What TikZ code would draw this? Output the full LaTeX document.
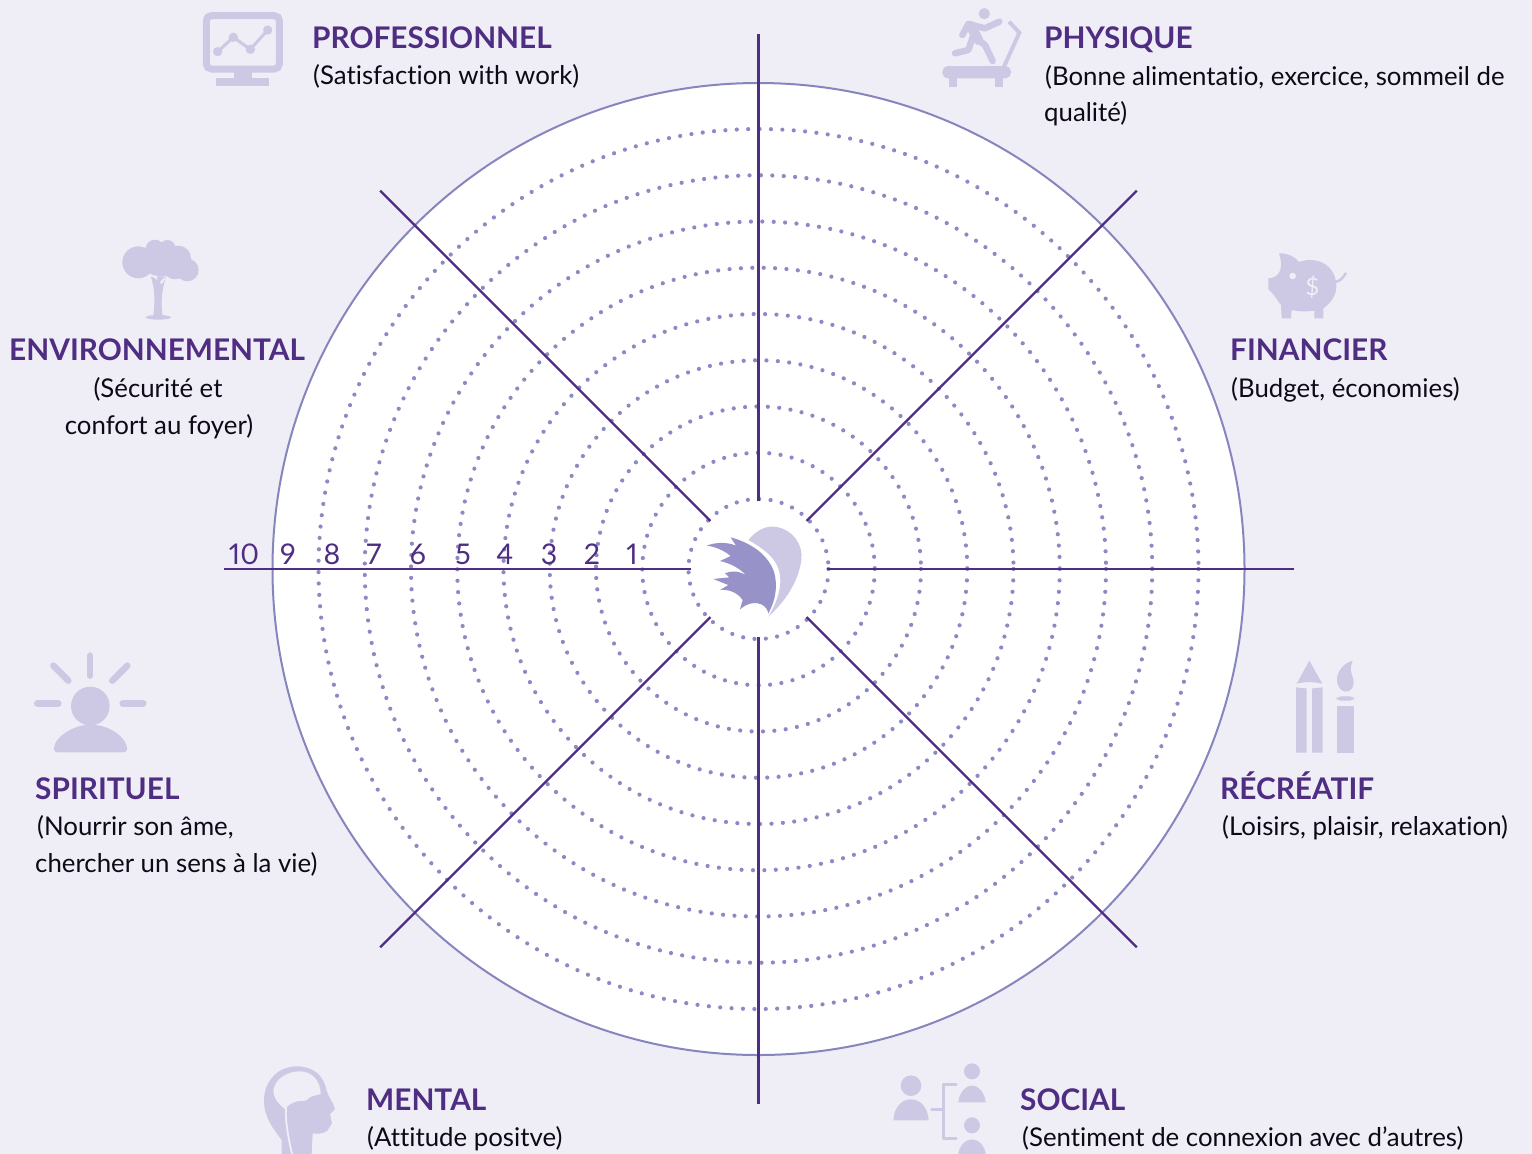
\documentclass[tikz,border=0pt]{standalone}
\usepackage{fontspec}
\setmainfont{Lato}[Ligatures=NoCommon, Numbers=Proportional]
\definecolor{fond}{HTML}{EFEEF7}
\definecolor{icone}{HTML}{CDC9E4}
\definecolor{plume}{HTML}{9793C8}
\definecolor{violet}{HTML}{4F2D82}
\definecolor{cercle}{HTML}{8785BE}
\definecolor{pointille}{HTML}{8C89C4}
\tikzset{
  titre/.style={anchor=base west, inner sep=0pt, text=violet, font=\fontsize{29.8}{36}\selectfont\bfseries},
  desc/.style={anchor=base west, inner sep=0pt, text=black!82!violet, font=\fontsize{25.8}{30}\selectfont},
  graduation/.style={anchor=base, inner sep=0pt, text=violet, font=\fontsize{28.5}{32}\selectfont},
  rayon/.style={violet, line width=2.2pt},
  niveau/.style={pointille, line width=4.2pt, line cap=round, dash pattern=on 0pt off 11.4pt},
  trait/.style={icone, line cap=round, line join=round},
}
\begin{document}
\begin{tikzpicture}[x=1pt, y=-1pt]
\useasboundingbox (0,0) rectangle (1532,1154);
\fill[fond](0,0) rectangle (1532,1154);
\coordinate (c) at (758.5,569);
\fill[white](c) circle (486);
\draw[cercle, line width=2pt](c) circle (486);
\foreach \r in {0,...,8}
{
    \draw[niveau](c) circle ({70+46.25*\r});
}
\begin{scope}[shift={(c)}]
\foreach \a in {0,45,...,315}
{
    \draw[rayon](\a:68)--(\a:535);
}
\end{scope}
\foreach \n/\x in {10/244,9/288,8/332,7/374,6/418,5/463,4/505,3/549,2/592,1/632}
{
    \node[graduation] (g\n) at (\x,564) {\n};
}

% logo
\begin{scope}[shift={(660,480)}, scale=1/3]
\fill[icone](265,180) .. controls (290,150) and (320,135) .. (350,141) .. controls (400,150) and (430,195) .. (424,240) .. controls (415,310) and (370,370) .. (325,410) .. controls (355,360) and (370,310) .. (355,265) .. controls (340,225) and (300,200) .. (265,180) -- cycle;
\fill[plume](140,197) .. controls (170,185) and (205,187) .. (228,197) -- (212,172) .. controls (260,185) and (320,215) .. (342,275) .. controls (355,320) and (345,365) .. (325,400) .. controls (320,375) and (295,365) .. (275,370) .. controls (260,373) and (250,380) .. (240,388) -- (248,360) .. controls (230,335) and (205,328) .. (180,330) -- (205,315) -- (160,297) -- (208,292) -- (195,280) .. controls (220,270) and (240,275) .. (258,285) .. controls (235,262) and (210,250) .. (180,243) -- (212,228) .. controls (190,210) and (165,200) .. (140,197) -- cycle;
\end{scope}

% professionnel
\node[titre] (t1) at (312,48.5) {PROFESSIONNEL};
\node[desc] (d1) at (313,84) {(Satisfaction with work)};
\begin{scope}[shift={(180,0)}, scale=1/3]
\draw[icone, line width=7pt, rounded corners=5pt](79,47) rectangle (298,207);
\fill[icone](163,217) rectangle (215,240);
\fill[icone](108,235) rectangle (268,258);
\draw[icone, line width=3pt](113,155)--(160,112)--(211,148)--(263,90);
\foreach \p in {(113,155),(160,112),(211,148),(263,90)}
{
    \fill[icone]\p circle (14);
}
\end{scope}

% physique
\node[titre] (t2) at (1044,48.5) {PHYSIQUE};
\node[desc] (d2) at (1045,85) {(Bonne alimentatio, exercice, sommeil de};
\node[desc] (d2b) at (1044,121) {qualité)};
\begin{scope}[shift={(930,0)}, scale=1/3]
\fill[icone](163,41) circle (17);
\draw[trait, line width=6.5pt](208,65)--(165,85)--(115,72)--(97,105);
\draw[trait, line width=10pt](122,78)--(145,120);
\draw[trait, line width=6.5pt](132,100)--(115,150)--(75,160);
\draw[trait, line width=6.5pt](145,120)--(165,135)--(188,183);
\draw[icone, line width=4pt](237,65)--(268,98)--(222,200);
\fill[icone, rounded corners=5.5pt](37,198) rectangle (243,235);
\fill[icone](58,230) rectangle (80,260);
\fill[icone](196,230) rectangle (218,260);
\end{scope}

% environnemental
\node[titre] (t3) at (9,360.5) {ENVIRONNEMENTAL};
\node[desc, anchor=base] (d3) at (158,397) {(Sécurité et};
\node[desc, anchor=base] (d3b) at (159,434) {confort au foyer)};
\begin{scope}[shift={(110,230)}, scale=1/3]
\fill[icone](85,97) circle (48);
\fill[icone](135,57) circle (28);
\fill[icone](172,55) circle (25);
\fill[icone](205,85) circle (38);
\fill[icone](232,120) circle (34);
\fill[icone](150,90) circle (50);
\fill[icone](195,112) circle (36);
\fill[icone](122,140) .. controls (135,170) and (135,220) .. (130,258) -- (158,258) .. controls (152,220) and (155,180) .. (168,140) -- cycle;
\fill[icone](145,262) ellipse (38 and 7);
\fill[fond](122,137) -- (140,137) -- (143,150) -- cycle;
\fill[fond](150,156) -- (163,142) -- (165,148) -- (155,163) -- cycle;
\end{scope}

% financier
\node[titre] (t4) at (1230,360.5) {FINANCIER};
\node[desc] (d4) at (1231,397) {(Budget, économies)};
\begin{scope}[shift={(1255,240)}, scale=1/3]
\fill[icone](72,40) .. controls (95,38) and (120,50) .. (132,66) .. controls (190,45) and (245,80) .. (244,140) .. controls (243,170) and (225,190) .. (205,205) -- (205,235) -- (178,235) -- (178,212) .. controls (155,215) and (130,215) .. (110,210) -- (108,235) -- (80,235) -- (78,195) .. controls (65,180) and (60,165) .. (40,148) -- (40,115) .. controls (65,115) and (90,95) .. (72,40) -- cycle;
\draw[trait, line width=2.5pt](240,126) .. controls (255,125) and (265,112) .. (272,100);
\fill[fond](113,108) circle (10);
\node[inner sep=0pt, text=fond, font=\fontsize{24}{26}\selectfont] (dollar) at (172,140) {\$};
\end{scope}

% spirituel
\node[titre] (t5) at (35,799.5) {SPIRITUEL};
\node[desc] (d5) at (37,835) {(Nourrir son âme,};
\node[desc] (d5b) at (35,872) {chercher un sens à la vie)};
\begin{scope}[shift={(20,645)}, scale=1/3]
\foreach \xa/\ya/\xb/\yb in {52/175/115/175,308/175/370/175,210/32/210/92,100/62/145/107,322/62/277/107}
{
    \draw[trait, line width=6.5pt](\xa,\ya)--(\xb,\yb);
}
\fill[icone](211,183) circle (58);
\fill[icone, rounded corners=4pt](100,322) .. controls (105,280) and (140,255) .. (190,240) -- (235,240) .. controls (285,255) and (318,280) .. (323,322) -- cycle;
\end{scope}

% recreatif
\node[titre] (t6) at (1220,799.5) {RÉCRÉATIF};
\node[desc] (d6) at (1222,835) {(Loisirs, plaisir, relaxation)};
\begin{scope}[shift={(1280,650)}, scale=1/3]
\fill[icone](88,32) -- (127,101) .. controls (100,95) and (75,95) .. (50,101) -- cycle;
\fill[icone](48,112) .. controls (58,113) and (70,115) .. (80,115) -- (80,308) -- (48,308) -- cycle;
\fill[icone](96,115) .. controls (106,115) and (118,113) .. (128,112) -- (128,308) -- (96,308) -- cycle;
\fill[icone](218,32) .. controls (190,40) and (170,65) .. (171,90) .. controls (172,112) and (185,125) .. (197,125) .. controls (212,125) and (222,112) .. (221,95) .. controls (220,78) and (205,65) .. (218,32) -- cycle;
\fill[icone, rounded corners=4pt](170,139) rectangle (222,152);
\fill[icone](171,167) rectangle (222,308);
\end{scope}

% mental
\node[titre] (t7) at (366,1110.5) {MENTAL};
\node[desc] (d7) at (367,1146) {(Attitude positve)};
\begin{scope}[shift={(250,1054)}, scale=1/3]
\fill[icone](95,300) -- (95,258) .. controls (70,225) and (42,190) .. (42,140) .. controls (42,80) and (85,37) .. (140,37) .. controls (190,37) and (222,65) .. (230,110) .. controls (235,130) and (250,145) .. (255,165) -- (240,180) -- (246,208) -- (232,230) .. controls (220,240) and (200,240) .. (188,238) -- (185,300) -- cycle;
\fill[fond](70,110) .. controls (75,75) and (110,52) .. (150,52) .. controls (185,52) and (212,80) .. (212,120) .. controls (195,125) and (180,125) .. (168,140) .. controls (150,140) and (125,140) .. (105,165) .. controls (85,150) and (70,130) .. (70,110) -- cycle;
\draw[fond, line width=1.8pt](108,160) .. controls (105,200) and (115,250) .. (126,300);
\end{scope}

% social
\node[titre] (t8) at (1020,1110.5) {SOCIAL};
\node[desc] (d8) at (1022,1146) {(Sentiment de connexion avec d’autres)};
\begin{scope}[shift={(880,1054)}, scale=1/3]
\fill[icone](93,95) circle (31);
\fill[icone](40,199) .. controls (42,160) and (65,136) .. (93,136) .. controls (121,136) and (144,160) .. (146,199) -- cycle;
\fill[icone](276,52) circle (24);
\fill[icone](235,145) .. controls (237,118) and (255,95) .. (276,95) .. controls (297,95) and (315,118) .. (317,145) -- cycle;
\fill[icone](276,214) circle (24);
\fill[icone](235,300) .. controls (237,278) and (255,256) .. (276,256) .. controls (297,256) and (315,278) .. (317,300) -- cycle;
\draw[trait, line width=3.3pt](228,91)--(190,91)--(190,254)--(228,254);
\draw[trait, line width=3.3pt](155,167)--(190,167);
\end{scope}
\end{tikzpicture}
\end{document}
